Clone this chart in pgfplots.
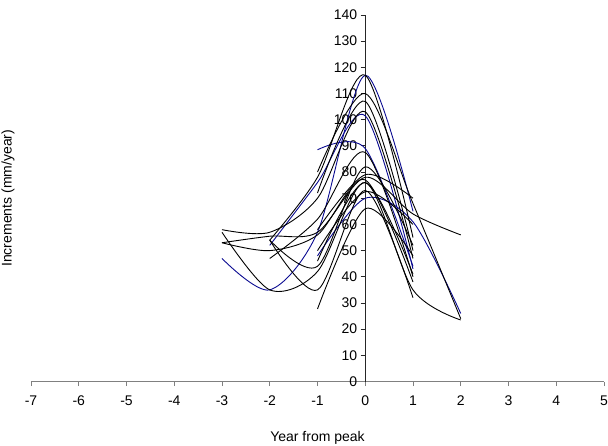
\documentclass[border=0pt]{standalone}
\usepackage{fontspec}
\setmainfont{Liberation Sans}
\usepackage{pgfplots}
\pgfplotsset{compat=1.18}
\definecolor{navyline}{RGB}{10,10,145}

\begin{document}
\begin{tikzpicture}
\begin{axis}[
  scale only axis, width=573pt, height=366.5pt,
  xmin=-7, xmax=5, ymin=0, ymax=140,
  axis lines*=middle,
  hide obscured x ticks=false, hide obscured y ticks=false,
  xtick={-7,-6,-5,-4,-3,-2,-1,0,1,2,3,4,5},
  xticklabels={-7,-6,-5,-4,-3,-2,-1,0,1,2,3,4,5},
  ytick={0,10,...,140},
  tick align=outside, major tick length=4.5pt,
  /pgf/number format/assume math mode=true,
  tick label style={font=\fontsize{14}{16}\selectfont},
  xticklabel style={yshift=-6pt},
  x axis line style={gray, line width=0.8pt},
  y axis line style={black!85, line width=0.8pt},
  xtick style={gray, line width=0.8pt},
  ytick style={black!85, line width=0.8pt},
  xlabel={Year from peak}, ylabel={Increments (mm/year)},
  every axis x label/.style={at={(axis description cs:0.5,0)}, anchor=base, yshift=-59.5pt, font=\fontsize{14}{16}\selectfont},
  every axis y label/.style={at={(axis description cs:0,0.5)}, xshift=-23pt, rotate=90, anchor=center, font=\fontsize{14}{16}\selectfont},
  clip=false,
  every axis plot/.append style={smooth, line width=0.9pt, mark=none},
]
% navy series
\addplot[navyline] coordinates {(-3,47) (-2,35) (-1,57) (0,117) (1,65)};
\addplot[navyline] coordinates {(-2,52) (-1,76) (0,101.5) (1,43)};
\addplot[navyline] coordinates {(-1,88.5) (0,89) (1,44)};
\addplot[navyline] coordinates {(-1,48) (0,70) (1,61) (2,26)};
% black series
\addplot[black] coordinates {(-2,54) (-1,78) (0,117) (1,55)};
\addplot[black] coordinates {(-1,80) (0,110) (1,68) (2,24)};
\addplot[black] coordinates {(-1,72) (0,107) (1,50)};
\addplot[black] coordinates {(-3,58) (-2,57) (-1,70) (0,103) (1,47)};
\addplot[black] coordinates {(-2,47) (-1,62) (0,87.5) (1,40)};
\addplot[black] coordinates {(-1,58) (0,79) (1,70)};
\addplot[black] coordinates {(-3,53) (-2,55.5) (-1,57) (0,78) (1,64) (2,56)};
\addplot[black] coordinates {(-3,53) (-2,50) (-1,56) (0,77) (1,38)};
\addplot[black] coordinates {(-3,57) (-2,35) (-1,42) (0,76) (1,35) (2,23.5)};
\addplot[black] coordinates {(-2,54) (-1,35) (0,73) (1,32)};
\addplot[black] coordinates {(-1,27.7) (0,66) (1,48)};
\addplot[black] coordinates {(-2,54) (-1,44) (0,82) (1,52)};
\addplot[black] coordinates {(-1,50) (0,72.5) (1,60)};
\addplot[black] coordinates {(-1,46) (0,76) (1,41)};
\end{axis}
\pgfresetboundingbox
\path (-31pt,-63.5pt) rectangle (577pt,381.5pt);
\end{tikzpicture}
\end{document}
